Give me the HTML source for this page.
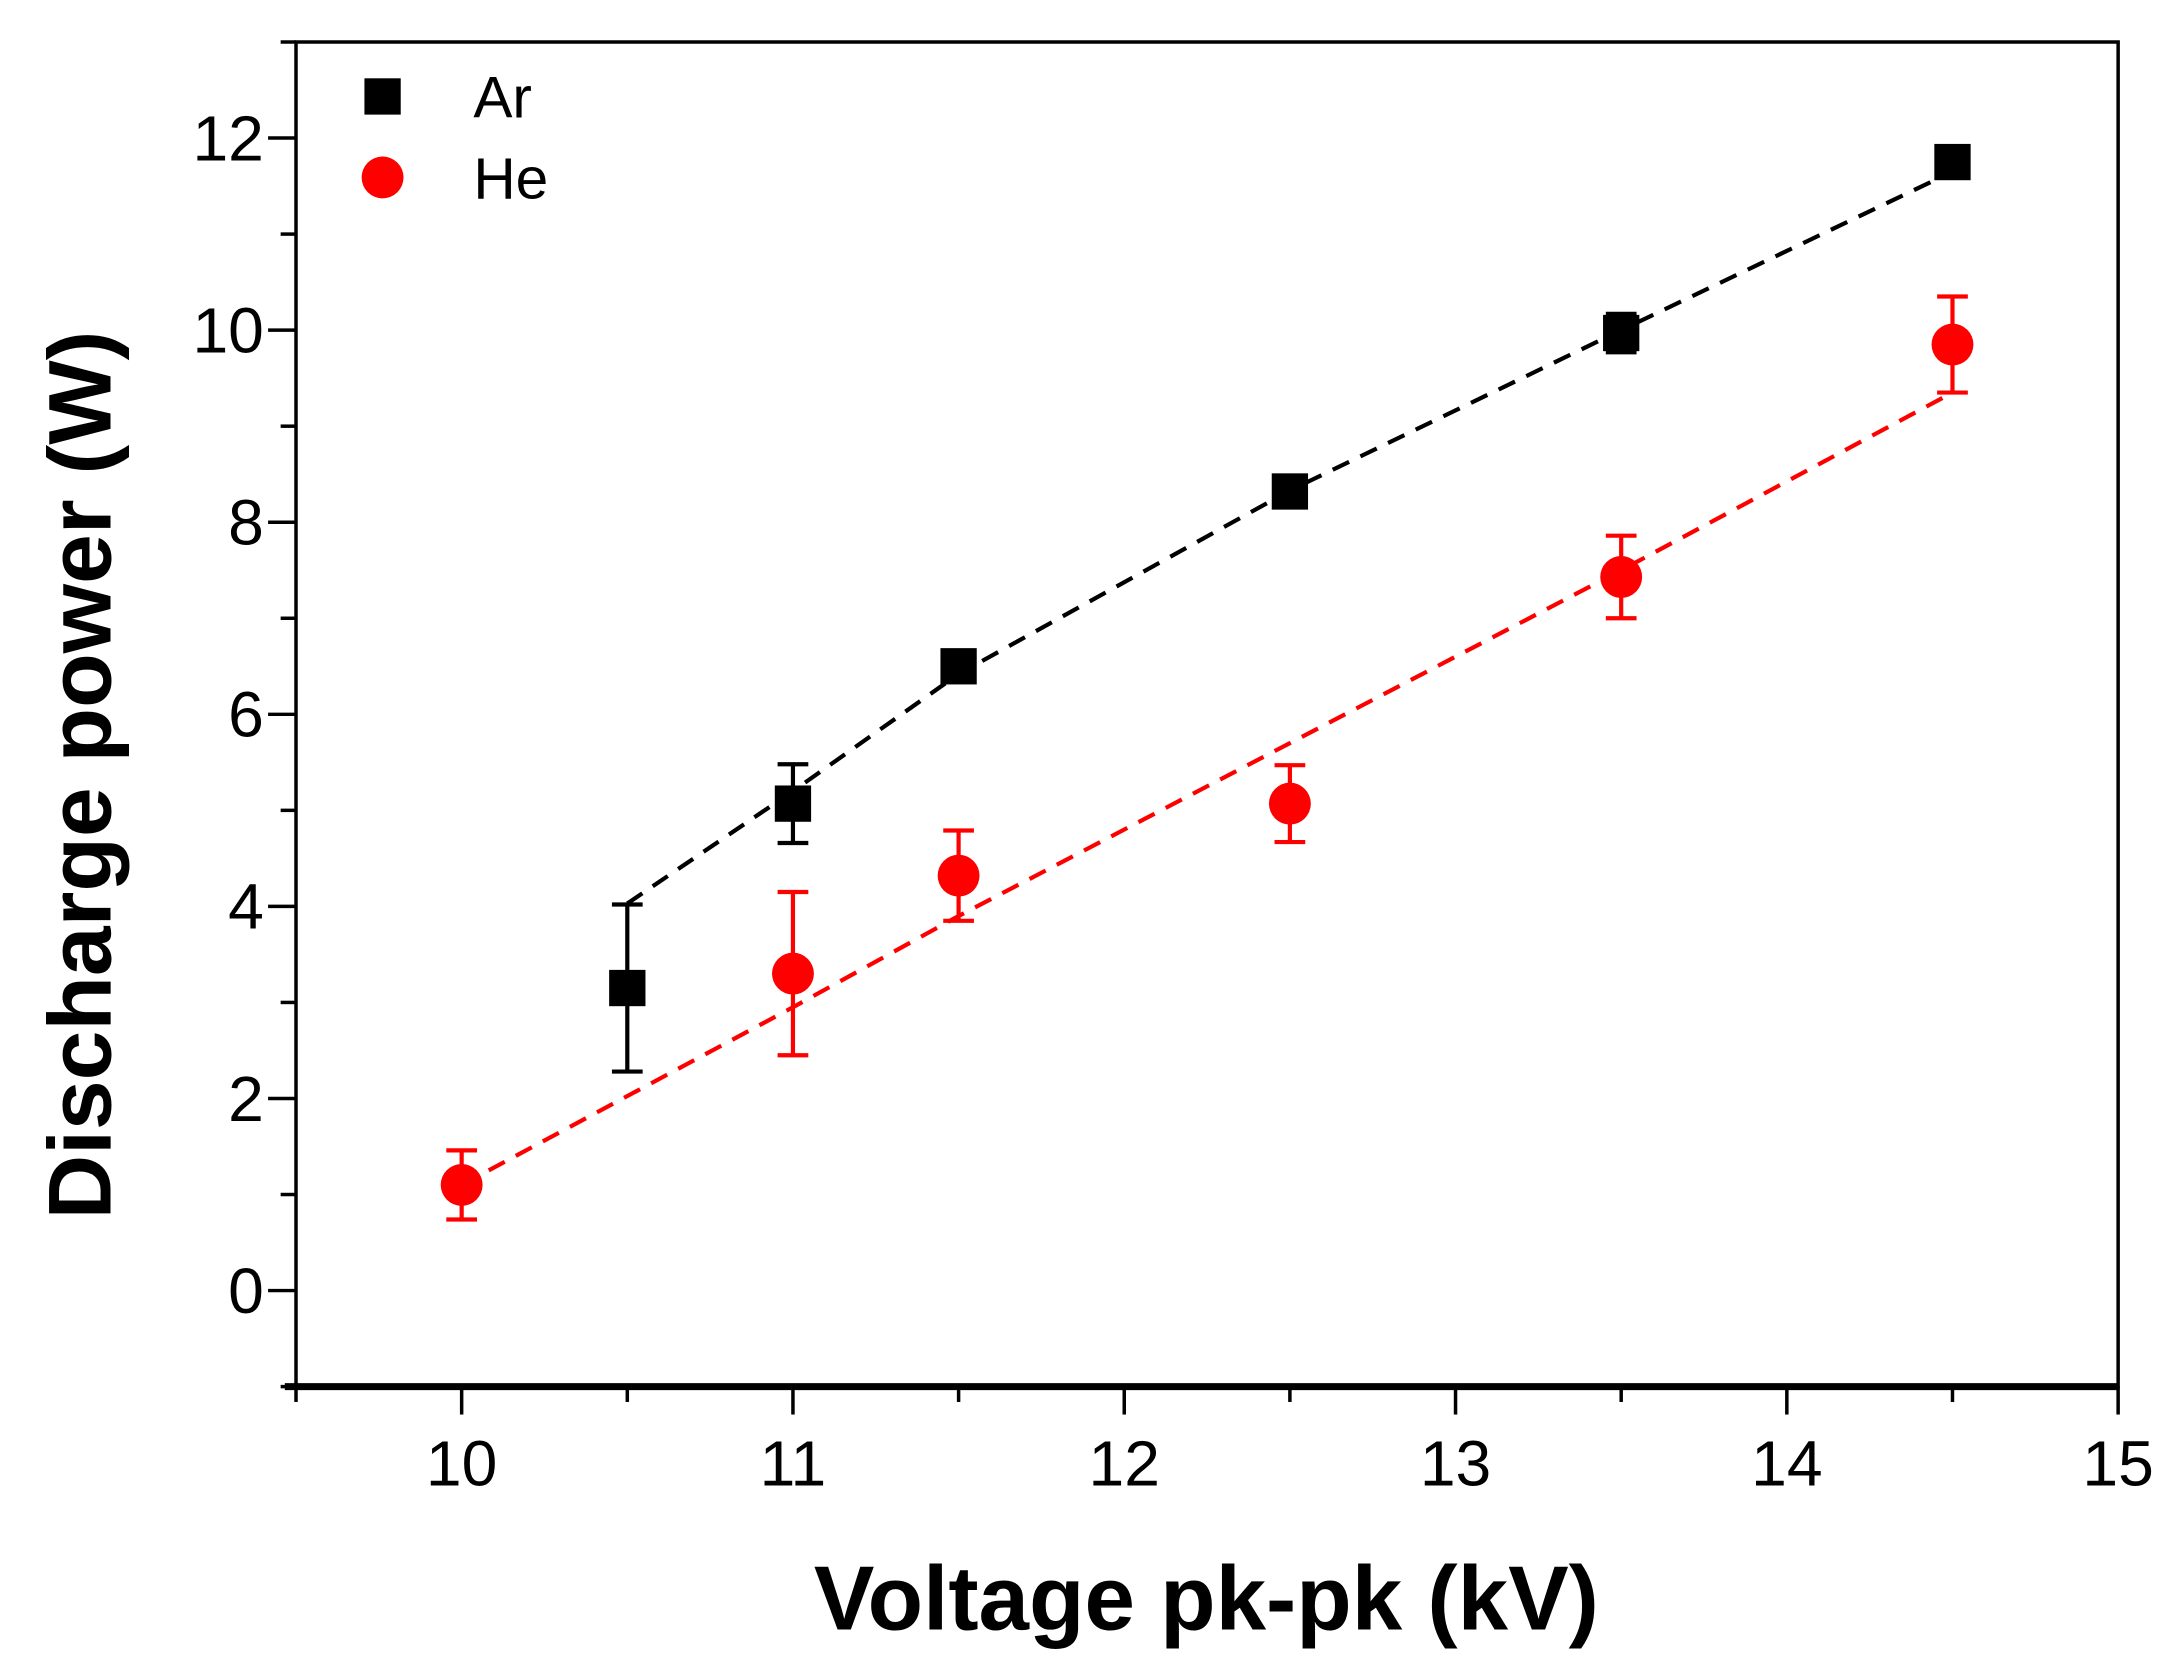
<!DOCTYPE html>
<html><head><meta charset="utf-8"><style>
html,body{margin:0;padding:0;background:#fff;}
svg{display:block;}
text{font-family:"Liberation Sans",Arial,sans-serif;}
</style></head><body>
<svg id="chart" width="2167" height="1659" viewBox="0 0 1552 1188" xmlns="http://www.w3.org/2000/svg">
<g id="axes"></g>
<g id="marks"></g>
<g id="legend">
  <rect x="261" y="56" width="26" height="26" fill="#000"/>
  <text x="339" y="84" font-size="42">Ar</text>
  <circle cx="274" cy="127" r="15" fill="#f00"/>
  <text x="339" y="142" font-size="42">He</text>
</g>
<text x="864" y="1167" font-size="65" font-weight="bold" text-anchor="middle">Voltage pk-pk (kV)</text>
<text transform="translate(79,555) rotate(-90)" font-size="64" font-weight="bold" text-anchor="middle">Discharge power (W)</text>
</svg>
<script>
const xTicks = [10, 11, 12, 13, 14, 15];
const yTicks = [0, 2, 4, 6, 8, 10, 12];
const arX = [10.5, 11, 11.5, 12.5, 13.5, 14.5];
const arY = [3.15, 5.07, 6.5, 8.32, 9.97, 11.75];
const arErr = [0.87, 0.41, 0.12, 0.15, 0.2, 0.12];
const arFitY = [4.03, 5.2, 6.42, 8.33, 10.0, 11.65];
const heX = [10, 11, 11.5, 12.5, 13.5, 14.5];
const heY = [1.1, 3.3, 4.32, 5.07, 7.43, 9.85];
const heErr = [0.36, 0.85, 0.47, 0.4, 0.43, 0.5];
const heFitY = [1.1, 2.95, 3.9, 5.7, 7.5, 9.35];

const L=212, R=1517, T=30, B=993;
const X0=9.5, X1=15, Y0=-1, Y1=13;
const sx = v => L + (v - X0) / (X1 - X0) * (R - L);
const sy = v => B - (v - Y0) / (Y1 - Y0) * (B - T);
const NS = 'http://www.w3.org/2000/svg';
function mk(parent, tag, attrs){
  const el = document.createElementNS(NS, tag);
  for (const k in attrs) el.setAttribute(k, attrs[k]);
  parent.appendChild(el);
  return el;
}
const axes = document.getElementById('axes');
const marks = document.getElementById('marks');

let e;
e = mk(axes,'rect',{x:L,y:T,width:R-L,height:B-T,fill:'none',stroke:'#000','stroke-width':2.5});


e = mk(axes,'line',{x1:L-8,x2:R,y1:B,y2:B,stroke:'#000','stroke-width':5});



for (let v = 9.5; v <= 15.001; v += 0.5) {
  const major = Math.abs(v - Math.round(v)) < 1e-6;
  e = mk(axes,'line',{x1:sx(v),x2:sx(v),y1:B,y2:B+(major?20:11),stroke:'#000','stroke-width':2.5});
  
  
}
xTicks.forEach(v => {
  e = mk(axes,'text',{x:sx(v),y:1064,'font-size':46,'text-anchor':'middle'});
  e.textContent = v;
  
  
});
for (let v = -1; v <= 13; v += 1) {
  const major = v % 2 === 0;
  e = mk(axes,'line',{x1:L-(major?20:11),x2:L,y1:sy(v),y2:sy(v),stroke:'#000','stroke-width':2.5});
  
  
}
yTicks.forEach(v => {
  e = mk(axes,'text',{x:189,y:sy(v)+16,'font-size':46,'text-anchor':'end'});
  e.textContent = v;
  
  
});

function series(xs, ys, errs, fit, color, shape, name){
  e = mk(marks,'polyline',{points:xs.map((x,i)=>sx(x)+','+sy(fit[i])).join(' '),fill:'none',stroke:color,'stroke-width':3,'stroke-dasharray':'13 9'});
  
  
  xs.forEach((x,i) => {
    const cx = sx(x), cy = sy(ys[i]), yt = sy(ys[i]+errs[i]), yb = sy(ys[i]-errs[i]);
    const g = mk(marks,'g',{});
    
    
    mk(g,'line',{x1:cx,x2:cx,y1:yt,y2:yb,stroke:color,'stroke-width':3});
    mk(g,'line',{x1:cx-11,x2:cx+11,y1:yt,y2:yt,stroke:color,'stroke-width':3});
    mk(g,'line',{x1:cx-11,x2:cx+11,y1:yb,y2:yb,stroke:color,'stroke-width':3});
    if (shape === 'square') mk(g,'rect',{x:cx-13,y:cy-13,width:26,height:26,fill:color});
    else mk(g,'circle',{cx:cx,cy:cy,r:15,fill:color});
  });
}
series(arX, arY, arErr, arFitY, '#000', 'square', 'ar');
series(heX, heY, heErr, heFitY, '#f00', 'circle', 'he');
</script>
</body></html>
